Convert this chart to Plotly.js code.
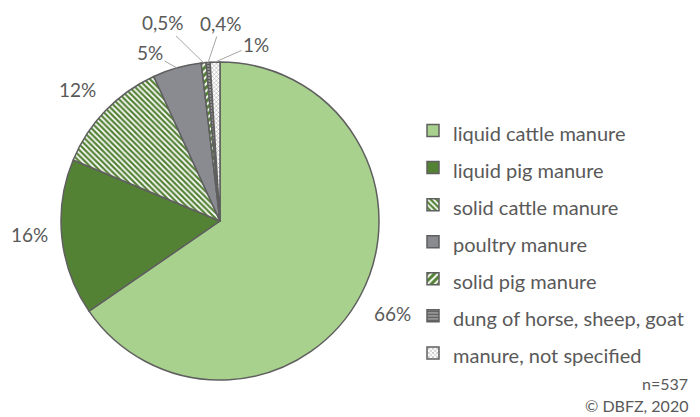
<!DOCTYPE html>
<html>
<head>
<meta charset="utf-8">
<script src="https://cdn.plot.ly/plotly-3.0.1.min.js"></script>
<style>html,body{margin:0;padding:0;background:#fff;}#chart{width:700px;height:417px;}</style>
</head>
<body>
<div id="chart"></div>
<script>
// Data
const categories = ["liquid cattle manure", "liquid pig manure", "solid cattle manure", "poultry manure", "solid pig manure", "dung of horse, sheep, goat", "manure, not specified"];
const shares = [66, 16, 12, 5, 0.5, 0.4, 1];
const shareLabels = ["66%", "16%", "12%", "5%", "0,5%", "0,4%", "1%"];
const sampleNote = "n=537";
const sourceNote = "© DBFZ, 2020";

// Styles
const colors = ["#a9d18e", "#548235", "#548235", "#898b90", "#548235", "#9a9a9a", "#ffffff"];
const patShapes = ["", "", "\\", "", "/", "-", "x"];
const patFg = ["#ffffff", "#ffffff", "#ffffff", "#ffffff", "#ffffff", "#5a5a5a", "#9a9a9a"];
const patBg = colors;
const patSize = [6, 6, 4, 6, 5, 3, 3];
const patSolid = [0.3, 0.3, 0.45, 0.3, 0.4, 0.4, 0.3];

// label offsets (pixels) from the slice's mid-point on the rim, and leader-line visibility
const labelDX = [32, -32, -28, -27, -41, 13, 41];
const labelDY = [18, -3, -21, -15, -40, -39, -18];
const showLeader = [false, false, false, true, true, true, true];

const txtColor = "#595959";
const fontFam = "Lato, 'Open Sans', sans-serif";

const W = 700, H = 417;
const cx = 220, cy = 221, R = 159;

const legendLabels = categories.map(c => '<span style="font-size:20px">' + c + '</span>');

const trace = {
  type: "pie",
  labels: legendLabels,
  values: shares,
  textinfo: "none",
  sort: false,
  direction: "clockwise",
  rotation: 0,
  automargin: false,
  hoverinfo: "none",
  marker: {
    colors: colors,
    line: {color: "#5f5f5f", width: 1.5},
    pattern: {shape: patShapes, fgcolor: patFg, bgcolor: patBg, size: patSize, solidity: patSolid, fillmode: "replace"}
  },
  domain: {
    x: [(cx - R) / W, (cx + R) / W],
    y: [(H - cy - R) / H, (H - cy + R) / H]
  }
};

// slice label anchors derived from the data (mid-angle of each slice on the rim)
const total = shares.reduce((a, b) => a + b, 0);
let cum = 0;
const labelAnns = shares.map((v, i) => {
  const mid = (cum + v / 2) / total * 2 * Math.PI;
  cum += v;
  const px = cx + R * Math.sin(mid);
  const py = cy - R * Math.cos(mid);
  return {
    text: shareLabels[i],
    x: px / W, y: 1 - py / H, xref: "paper", yref: "paper",
    showarrow: true, arrowhead: 0, arrowwidth: 1, standoff: 0,
    arrowcolor: showLeader[i] ? "#a6a6a6" : "rgba(0,0,0,0)",
    ax: labelDX[i], ay: labelDY[i],
    font: {family: fontFam, size: 19, color: txtColor}
  };
});

const layout = {
  width: W, height: H,
  margin: {l: 0, r: 0, t: 0, b: 0},
  paper_bgcolor: "#ffffff",
  showlegend: true,
  legend: {
    x: 413 / W, y: 1 - 107 / H, xanchor: "left", yanchor: "top",
    font: {family: fontFam, size: 26.2, color: txtColor},
    itemwidth: 30, traceorder: "normal", bgcolor: "rgba(0,0,0,0)"
  },
  annotations: labelAnns.concat([
    {text: sampleNote, x: 1, y: 1 - 383 / H, xref: "paper", yref: "paper", xanchor: "right", yanchor: "middle", showarrow: false, xshift: -10, font: {family: fontFam, size: 16, color: txtColor}},
    {text: sourceNote, x: 1, y: 1 - 405 / H, xref: "paper", yref: "paper", xanchor: "right", yanchor: "middle", showarrow: false, xshift: -10, font: {family: fontFam, size: 16, color: txtColor}}
  ])
};

Plotly.newPlot("chart", [trace], layout, {displayModeBar: false, staticPlot: true});
</script>
</body>
</html>
